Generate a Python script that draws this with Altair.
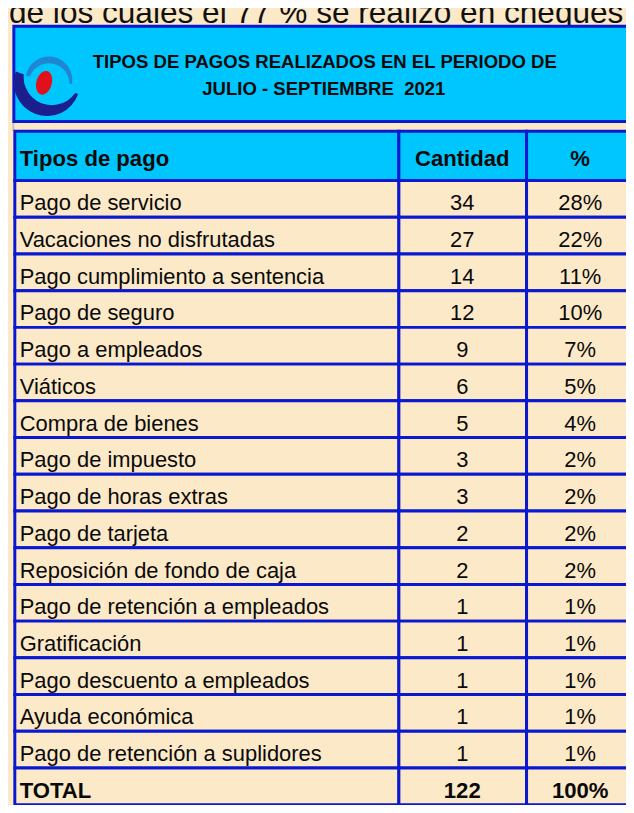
import math
import altair as alt
import pandas as pd

# ---------------- data ----------------
TOP_TEXT = "de los cuales el 77 % se realizó en cheques"
TITLE_LINES = ["TIPOS DE PAGOS REALIZADOS EN EL PERIODO DE", "JULIO - SEPTIEMBRE\u00a0 2021"]
HEADERS = ["Tipos de pago", "Cantidad", "%"]
TIPOS = [
    "Pago de servicio",
    "Vacaciones no disfrutadas",
    "Pago cumplimiento a sentencia",
    "Pago de seguro",
    "Pago a empleados",
    "Viáticos",
    "Compra de bienes",
    "Pago de impuesto",
    "Pago de horas extras",
    "Pago de tarjeta",
    "Reposición de fondo de caja",
    "Pago de retención a empleados",
    "Gratificación",
    "Pago descuento a empleados",
    "Ayuda económica",
    "Pago de retención a suplidores",
]
CANTIDAD = [34, 27, 14, 12, 9, 6, 5, 3, 3, 2, 2, 1, 1, 1, 1, 1]
PORCENTAJE = [28, 22, 11, 10, 7, 5, 4, 2, 2, 2, 2, 1, 1, 1, 1, 1]
TOTAL_LABEL = "TOTAL"
TOTAL_CANTIDAD = 122
TOTAL_PORCENTAJE = 100

# ---------------- layout (reference pixel space, squeezed into the svg) ----------------
REF_W, REF_H = 634, 813
W, H = 626, 797
SX, SY = W / REF_W, H / REF_H

CREAM = "#FCE9C8"
SKY = "#00C6FF"
BORDER = "#0A18CF"
INK = "#0a0a0a"
FONT = "Liberation Sans, Arial, Helvetica, sans-serif"

TITLE_BOX = dict(x=6, x2=720, y=13.5, y2=112)
TABLE_TOP = 122
HEADER_BOTTOM = 173
ROW_H = 37.94
COL_EDGES = [7, 401, 532, 720]
TEXT_LEFT = 12
COL_CENTERS = [466, 587]
BASE_OFF = 30.8
HEADER_BASE = 158.3

xs = alt.Scale(domain=[0, REF_W], nice=False, zero=False)
ys = alt.Scale(domain=[0, REF_H], nice=False, zero=False, reverse=True)


def X(f):
    return alt.X(f"{f}:Q", scale=xs, axis=None)


def X2(f):
    return alt.X2(f"{f}:Q")


def Y(f):
    return alt.Y(f"{f}:Q", scale=ys, axis=None)


def Y2(f):
    return alt.Y2(f"{f}:Q")


# ---------------- build tables ----------------
cells = []
texts = []
for c, h in enumerate(HEADERS):
    cells.append(dict(x=COL_EDGES[c], x2=COL_EDGES[c + 1], y=TABLE_TOP, y2=HEADER_BOTTOM, fill=SKY))
texts.append(dict(x=TEXT_LEFT, y=HEADER_BASE, text=HEADERS[0], kind="left_bold"))
texts.append(dict(x=COL_CENTERS[0], y=HEADER_BASE, text=HEADERS[1], kind="center_bold"))
texts.append(dict(x=COL_CENTERS[1], y=HEADER_BASE, text=HEADERS[2], kind="center_bold"))

rows = list(zip(TIPOS, CANTIDAD, [f"{p}%" for p in PORCENTAJE]))
rows.append((TOTAL_LABEL, TOTAL_CANTIDAD, f"{TOTAL_PORCENTAJE}%"))
for i, (t, q, p) in enumerate(rows):
    y0 = HEADER_BOTTOM + i * ROW_H
    for c in range(3):
        cells.append(dict(x=COL_EDGES[c], x2=COL_EDGES[c + 1], y=y0, y2=y0 + ROW_H, fill=CREAM))
    bold = i == len(rows) - 1
    texts.append(dict(x=TEXT_LEFT, y=y0 + BASE_OFF, text=t, kind="left_bold" if bold else "left"))
    texts.append(dict(x=COL_CENTERS[0], y=y0 + BASE_OFF, text=str(q), kind="center_bold" if bold else "center"))
    texts.append(dict(x=COL_CENTERS[1], y=y0 + BASE_OFF, text=p, kind="center_bold" if bold else "center"))

df_cells = pd.DataFrame(cells)
df_text = pd.DataFrame(texts)
df_title_box = pd.DataFrame([TITLE_BOX])
df_title = pd.DataFrame(dict(x=[325, 324], y=[56.7, 85], text=TITLE_LINES))
df_top = pd.DataFrame(dict(x=[1], y=[9.8], text=[TOP_TEXT]))
df_tick = pd.DataFrame([dict(x=5.5, y=112, y2=122)])

# ---------------- layers ----------------
tick = alt.Chart(df_tick).mark_rule(color="#C4C0B8", strokeWidth=2).encode(
    x=X("x"), y=Y("y"), y2=Y2("y2"))

title_box = alt.Chart(df_title_box).mark_rect(fill=SKY, stroke=BORDER, strokeWidth=3).encode(
    x=X("x"), x2=X2("x2"), y=Y("y"), y2=Y2("y2"))

cell_rects = alt.Chart(df_cells).mark_rect(stroke=BORDER, strokeWidth=3).encode(
    x=X("x"), x2=X2("x2"), y=Y("y"), y2=Y2("y2"),
    fill=alt.Fill("fill:N", scale=None))


def text_layer(kind, align, weight, size):
    return alt.Chart(df_text).transform_filter(alt.datum.kind == kind).mark_text(
        align=align, baseline="alphabetic", font=FONT, fontWeight=weight,
        fontSize=size, color=INK).encode(x=X("x"), y=Y("y"), text="text:N")


t_left = text_layer("left", "left", "normal", 22.2)
t_center = text_layer("center", "center", "normal", 22.2)
t_left_b = text_layer("left_bold", "left", "bold", 22.4)
t_center_b = text_layer("center_bold", "center", "bold", 22.4)

title_text = alt.Chart(df_title).mark_text(
    align="center", baseline="alphabetic", font=FONT, fontWeight="bold",
    fontSize=18.8, color=INK).encode(x=X("x"), y=Y("y"), text="text:N")

top_text = alt.Chart(df_top).mark_text(
    align="left", baseline="alphabetic", font=FONT, fontSize=32, color="#111").encode(
    x=X("x"), y=Y("y"), text="text:N")


# logo (decoration)
def arc(cx, cy, r, r2, a1, a2, color):
    return alt.Chart(df_top).mark_arc(
        theta=math.radians(a1), theta2=math.radians(a2), radius=r * SX, radius2=r2 * SX,
        color=color).encode(x=alt.value(cx * SX), y=alt.value(cy * SY))


navy = arc(40, 72, 34, 0, 110, 290, "#1B1E8C")
bite_navy = arc(45, 66, 29, 0, 0, 360, SKY)
light = arc(42, 69, 24, 0, 280, 460, "#1F86D2")
bite_light = arc(42, 73, 21, 0, 0, 360, SKY)
ELLIPSE = "M0,-1 A0.64,1 0 1,1 0,1 A0.64,1 0 1,1 0,-1 Z"
red = alt.Chart(df_top).mark_point(
    shape=ELLIPSE, filled=True, size=(25 * SY) ** 2, angle=15, color="#E2101C", opacity=1,
    strokeWidth=0).encode(x=alt.value(37 * SX), y=alt.value(72 * SY))

chart = alt.layer(
    tick, top_text, title_box, navy, bite_navy, light, bite_light, red, title_text,
    cell_rects, t_left, t_center, t_left_b, t_center_b,
).properties(
    width=W, height=H, padding=0, background=CREAM,
    autosize=alt.AutoSizeParams(type="none"),
).configure_view(stroke=None)

chart.save("out.html", embed_options={"renderer": "svg", "actions": False})
